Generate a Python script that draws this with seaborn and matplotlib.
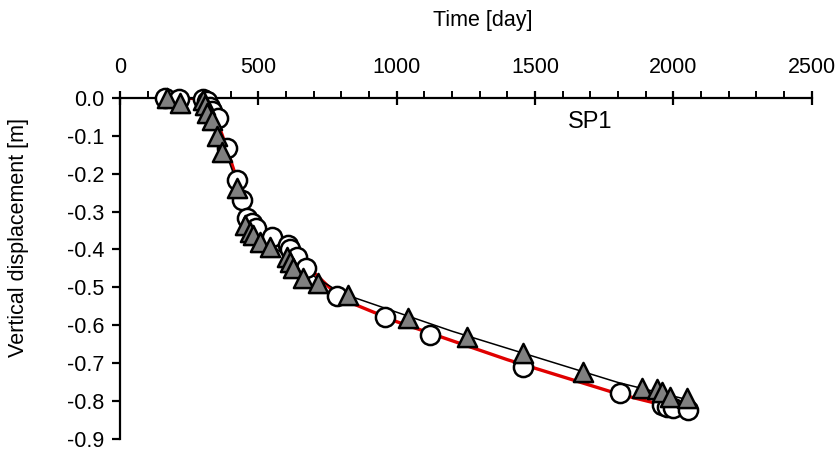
import matplotlib
matplotlib.use("Agg")
import matplotlib.pyplot as plt
from matplotlib.ticker import MultipleLocator
import seaborn as sns
import pandas as pd

# Measured (circles, white)
circle_days = [163, 215, 300, 315, 325, 333, 354, 387, 423, 441, 459, 477, 492,
               550, 607, 614, 640, 672, 784, 958, 1121, 1457, 1808,
               1959, 1977, 1999, 2053]
circle_vals = [0.0, -0.005, -0.003, -0.01, -0.025, -0.035, -0.055, -0.133, -0.217,
               -0.27, -0.317, -0.33, -0.343, -0.367, -0.388, -0.40, -0.42, -0.45,
               -0.522, -0.578, -0.625, -0.709, -0.778, -0.81, -0.815, -0.818, -0.822]

# Measured (triangles, grey)
tri_days = [170, 217, 300, 307, 315, 333, 351, 369, 423, 452, 470, 481, 506, 542,
            604, 615, 625, 661, 716, 824, 1041, 1254, 1457, 1674, 1887, 1941,
            1959, 1988, 2050]
tri_vals = [0.0, -0.015, -0.007, -0.02, -0.04, -0.06, -0.10, -0.143, -0.238,
            -0.335, -0.355, -0.362, -0.38, -0.393, -0.42, -0.433, -0.448, -0.475,
            -0.488, -0.52, -0.58, -0.63, -0.672, -0.722, -0.764, -0.768, -0.774,
            -0.787, -0.79]

# Model curves
red_days = [220, 300, 340, 380, 420, 450, 500, 600, 700, 800, 1000, 1200, 1400,
            1600, 1800, 2050]
red_vals = [0.0, -0.005, -0.04, -0.12, -0.21, -0.29, -0.35, -0.40, -0.46, -0.53,
            -0.59, -0.64, -0.69, -0.735, -0.78, -0.825]
black_days = [170, 300, 350, 420, 460, 600, 700, 800, 1000, 1200, 1400, 1600,
              1800, 2050]
black_vals = [0.0, -0.005, -0.08, -0.22, -0.33, -0.42, -0.47, -0.515, -0.565,
              -0.615, -0.66, -0.705, -0.75, -0.795]

x_ticks = [0, 500, 1000, 1500, 2000, 2500]
y_ticks = [0.0, -0.1, -0.2, -0.3, -0.4, -0.5, -0.6, -0.7, -0.8, -0.9]
y_labels = ["0.0", "-0.1", "-0.2", "-0.3", "-0.4", "-0.5", "-0.6", "-0.7", "-0.8", "-0.9"]

sns.set_theme(style="white")
plt.rcParams['font.family'] = ['Liberation Sans', 'DejaVu Sans']
plt.rcParams['text.color'] = 'black'
plt.rcParams['axes.labelcolor'] = 'black'
plt.rcParams['xtick.color'] = 'black'
plt.rcParams['ytick.color'] = 'black'

fig = plt.figure(figsize=(8.38, 4.54), dpi=100)
ax = fig.add_axes([0.1432, 0.032, 0.8254, 0.7532])

red_df = pd.DataFrame({"t": red_days, "v": red_vals})
black_df = pd.DataFrame({"t": black_days, "v": black_vals})
circ_df = pd.DataFrame({"t": circle_days, "v": circle_vals})
tri_df = pd.DataFrame({"t": tri_days, "v": tri_vals})

sns.lineplot(data=red_df, x="t", y="v", ax=ax, color="#e00000", linewidth=2.4,
             sort=False, estimator=None, zorder=2)
sns.lineplot(data=black_df, x="t", y="v", ax=ax, color="black", linewidth=1.1,
             sort=False, estimator=None, zorder=2)
sns.scatterplot(data=circ_df, x="t", y="v", ax=ax, marker="o", s=190,
                color="white", edgecolor="black", linewidth=1.8, zorder=3)
sns.scatterplot(data=tri_df, x="t", y="v", ax=ax, marker="^", s=190,
                color="#808080", edgecolor="black", linewidth=1.8, zorder=4)

ax.set_xlim(0, 2500)
ax.set_ylim(-0.9, 0.0)
ax.xaxis.set_ticks_position("top")
ax.xaxis.set_label_position("top")
ax.set_xticks(x_ticks)
ax.xaxis.set_minor_locator(MultipleLocator(100))
ax.set_yticks(y_ticks)
ax.set_yticklabels(y_labels)

for side in ["right", "bottom"]:
    ax.spines[side].set_visible(False)
for side in ["top", "left"]:
    ax.spines[side].set_linewidth(1.6)
    ax.spines[side].set_color("black")
    ax.spines[side].set_zorder(1)

ax.tick_params(axis="x", which="major", direction="inout", length=10, width=1.6,
               color="black", labelcolor="black", labelsize=15.5, pad=9,
               top=True, bottom=False)
ax.tick_params(axis="x", which="minor", direction="out", length=5, width=1.4,
               color="black", top=True, bottom=False)
ax.tick_params(axis="y", which="major", direction="out", length=6, width=1.6,
               color="black", labelcolor="black", labelsize=15.5, pad=5, left=True)

ax.set_xlabel("Time [day]", fontsize=15.5, color="black")
ax.set_ylabel("Vertical displacement [m]", fontsize=15.5, color="black")
ax.xaxis.set_label_coords(0.525, 1.209)
ax.yaxis.set_label_coords(-0.131, 0.592)
ax.text(1700, -0.064, "SP1", fontsize=17, ha="center", va="center", color="black")
for coll in ax.collections:
    coll.set_clip_on(False)

fig.savefig("out.png", dpi=100)
